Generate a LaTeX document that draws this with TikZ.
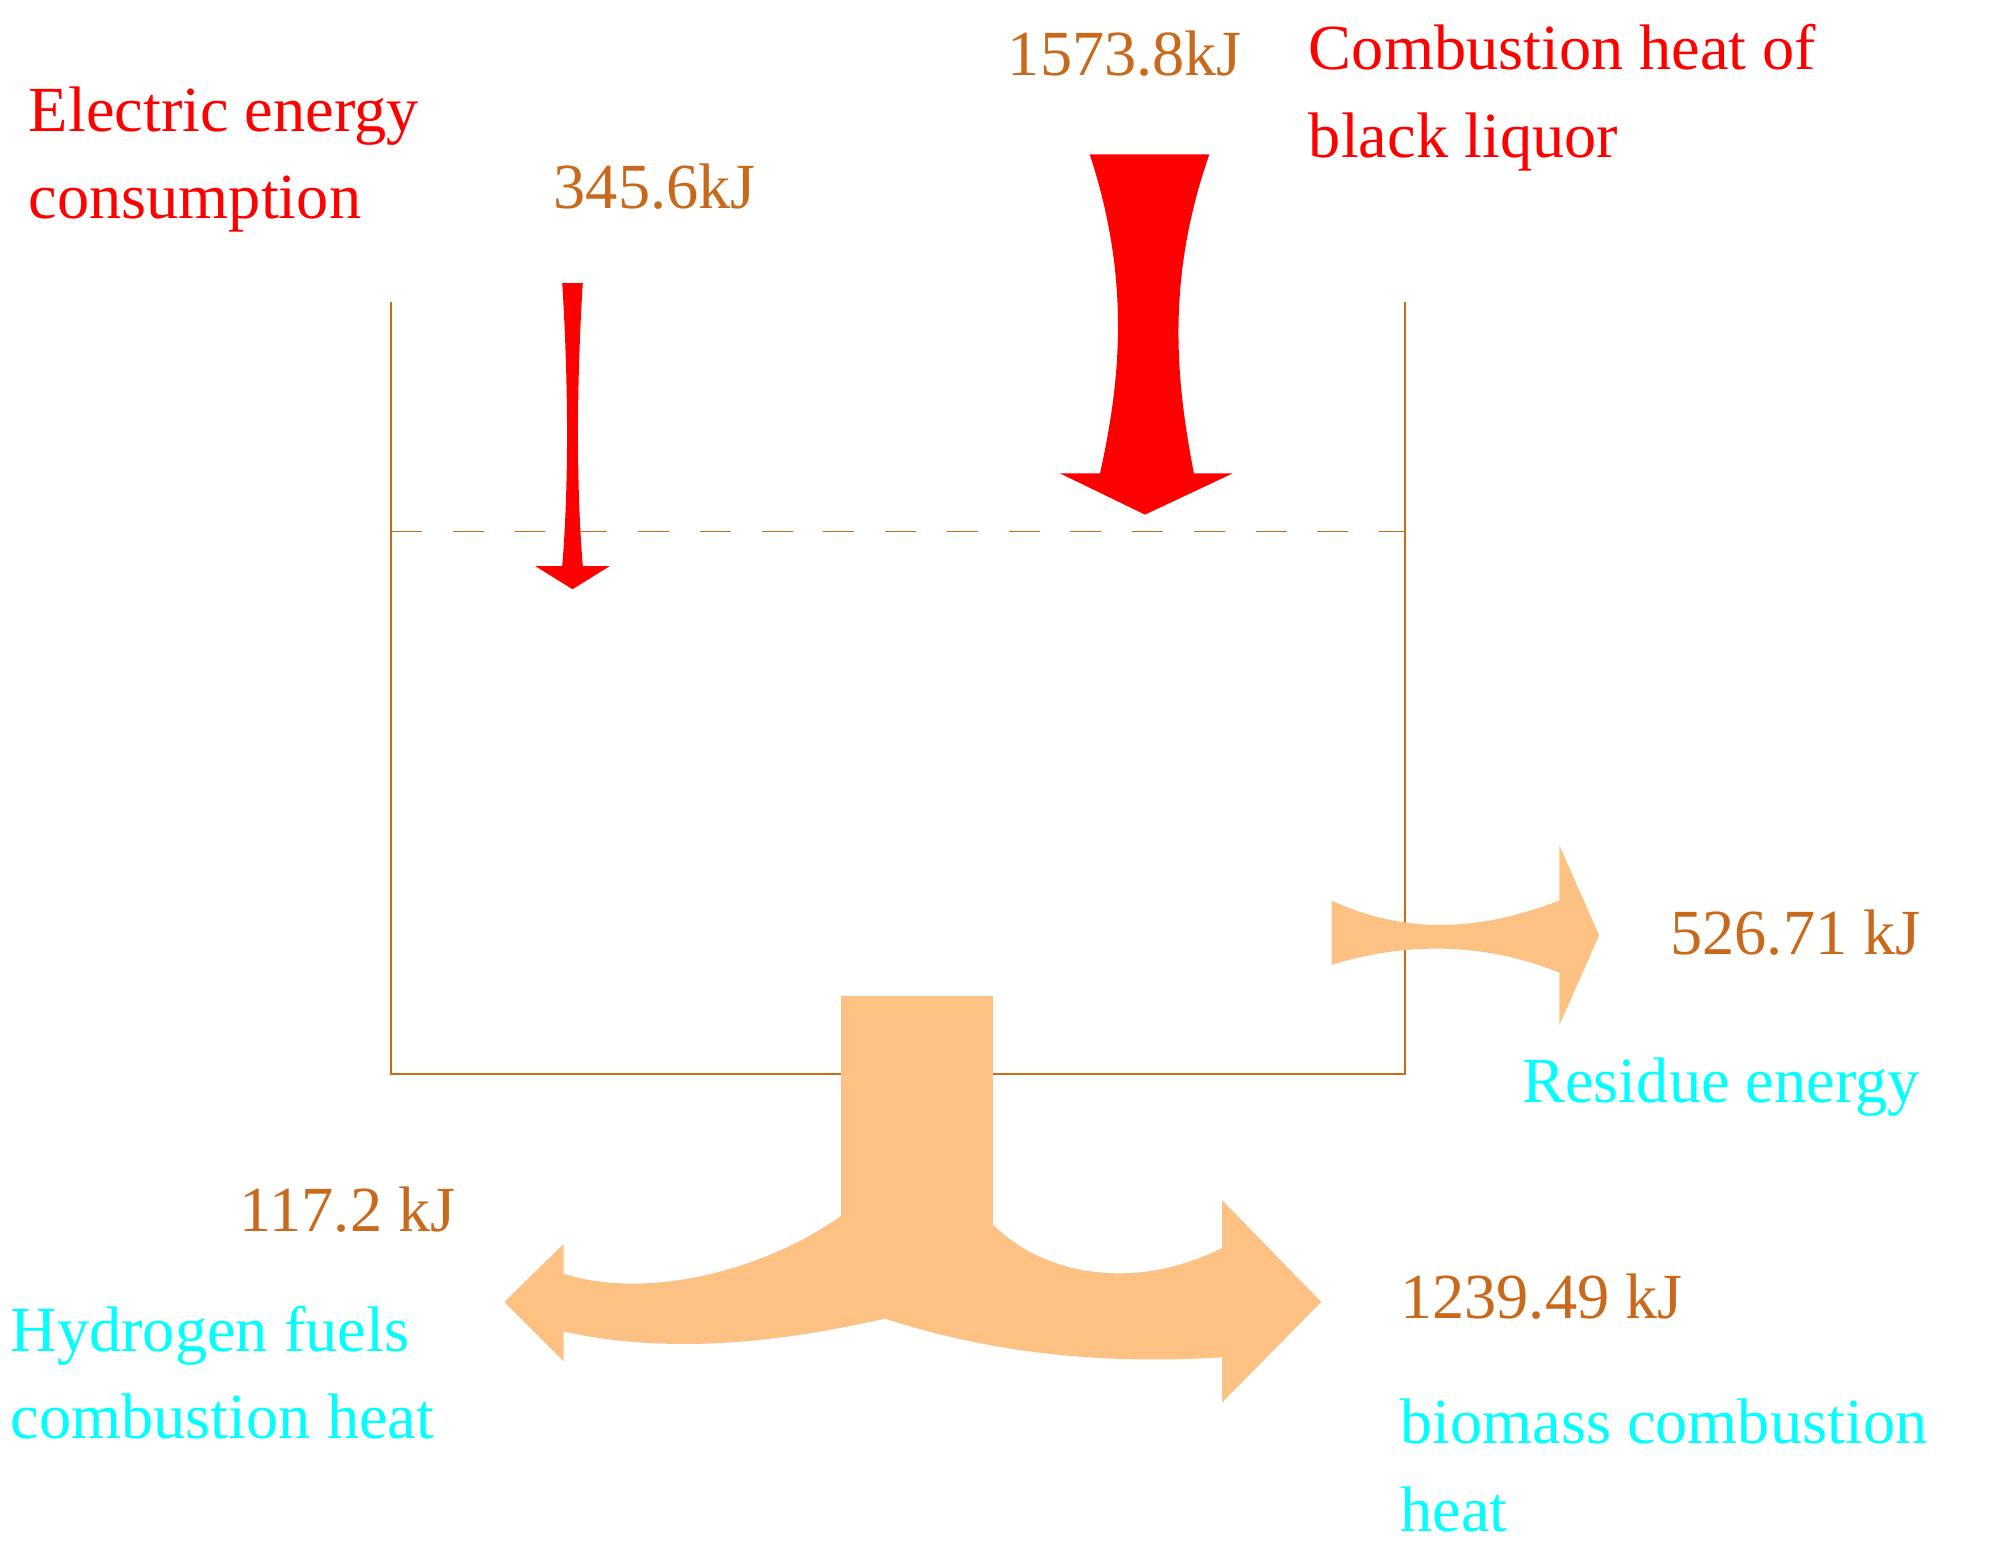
\documentclass[tikz,border=0pt]{standalone}
\usepackage{fontspec}
\setmainfont{Liberation Serif}
\definecolor{brn}{HTML}{C8691C}
\definecolor{peach}{HTML}{FDC183}
\definecolor{cy}{HTML}{00FFFF}
\begin{document}
\begin{tikzpicture}[x=0.5pt,y=-0.5pt,
  lab/.style={anchor=west,align=left,inner sep=0pt,font=\fontsize{25}{34}\selectfont},
  box/.style={draw=brn,line width=0.6pt}]
\useasboundingbox (0,0) rectangle (1560,1199);
% box
\draw[box] (304,235) -- (304,835) -- (1092,835) -- (1092,235);
\draw[box,dash pattern=on 12pt off 12pt] (304,413) -- (1092,413);
% small red arrow
\fill[red] (437,220) -- (453,220) .. controls (448,300) and (448,380) .. (453,440) -- (474,440) -- (445,458) -- (416,440) -- (437,440) .. controls (442,380) and (442,300) .. (437,220) -- cycle;
% big red arrow
\fill[red] (847,120) -- (940,120) .. controls (905,220) and (915,300) .. (928,368) -- (958,368) -- (890,400) -- (824,368) -- (855,368) .. controls (870,300) and (880,220) .. (847,120) -- cycle;
% right peach arrow
\fill[peach] (1035,700) .. controls (1100,730) and (1160,720) .. (1212,700) -- (1212,657) -- (1243,727) -- (1212,797) -- (1212,756) .. controls (1160,735) and (1100,730) .. (1035,750) -- cycle;
% bottom peach
\fill[peach] (654,774) rectangle (772,955);
\fill[peach] (654,945) .. controls (590,990) and (500,1010) .. (438,990) -- (438,967) -- (392,1012) -- (438,1058) -- (438,1035) .. controls (530,1055) and (620,1040) .. (688,1025)
 .. controls (780,1055) and (870,1060) .. (950,1055) -- (950,1090) -- (1027,1012) -- (950,933) -- (950,970) .. controls (880,1005) and (810,990) .. (772,952) -- cycle;
% texts
\node[lab,red] (t1) at (22,124) {Electric energy\\consumption};
\node[lab,brn] (t2) at (430,145) {345.6kJ};
\node[lab,brn] (t3) at (783,42) {1573.8kJ};
\node[lab,red] (t4) at (1017,76) {Combustion heat of\\black liquor};
\node[lab,brn] (t5) at (1298,725) {526.71 kJ};
\node[lab,cy] (t6) at (1183,845) {Residue energy};
\node[lab,brn] (t7) at (186,940) {117.2 kJ};
\node[lab,cy] (t8) at (8,1067) {Hydrogen fuels\\combustion heat};
\node[lab,brn] (t9) at (1088,1008) {1239.49 kJ};
\node[lab,cy] (t10) at (1088,1139) {biomass combustion\\heat};
\end{tikzpicture}
\end{document}
